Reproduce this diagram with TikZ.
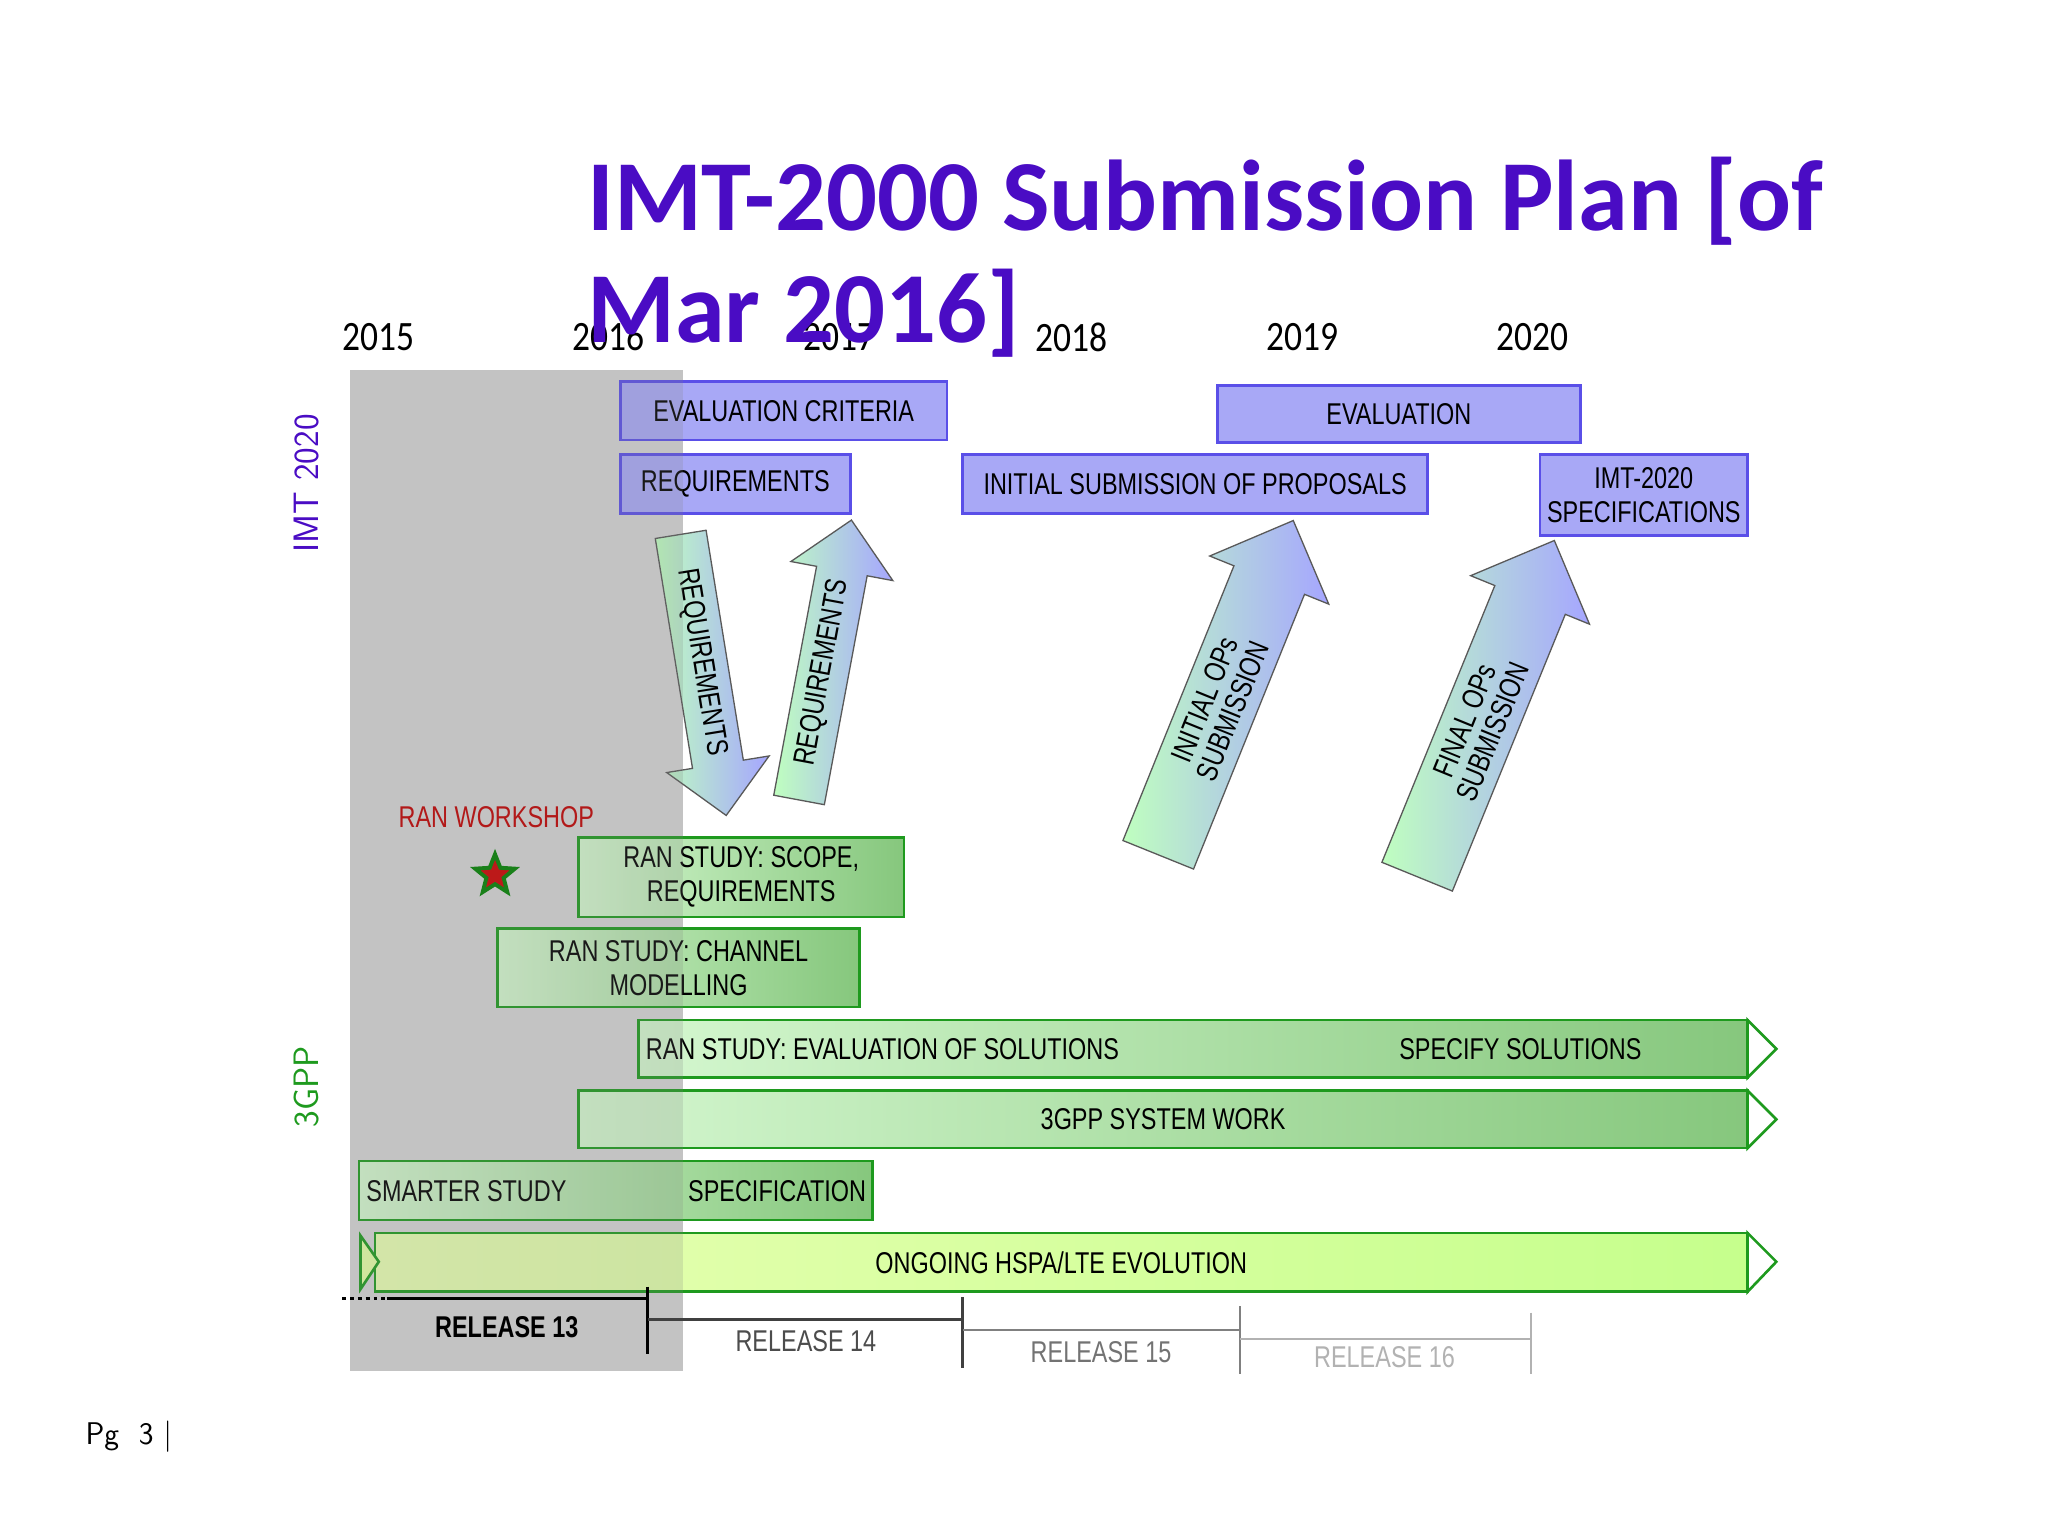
\documentclass[tikz,border=0pt]{standalone}
\usepackage{fontspec}
\setmainfont{Liberation Sans}
\newfontfamily\nar[FakeStretch=0.78]{Liberation Sans}
\newfontfamily\calfont{Carlito}
\newfontfamily\calnar[FakeStretch=0.85]{Carlito}
\usetikzlibrary{shapes.arrows,shapes.geometric}
\definecolor{ttl}{HTML}{4A0CC4}
\definecolor{pfill}{HTML}{A8A8F6}
\definecolor{pline}{HTML}{5A4FE8}
\definecolor{gline}{HTML}{1E9A1E}
\definecolor{gl}{HTML}{D4F7CF}
\definecolor{gd}{HTML}{86C77D}
\tikzset{
 pbox/.style={draw=pline,line width=2pt,fill=pfill,font=\nar\fontsize{23}{26}\selectfont,inner sep=0pt,align=center},
 gbox/.style={draw=gline,line width=2pt,left color=gl,right color=gd,font=\nar\fontsize{23}{26}\selectfont,inner sep=0pt,align=center},
 bigarr/.style={single arrow,draw=gray!70!black,line width=1pt,left color=green!25!white,right color=blue!35!white,font=\nar\fontsize{23}{23}\selectfont,align=center,inner sep=9pt,single arrow head extend=20pt,single arrow head indent=0pt},
 yr/.style={font=\calnar\fontsize{32}{32}\selectfont},
 tip/.style={draw=gline,line width=2pt,fill=white},
 rel/.style={font=\nar\fontsize{23}{23}\selectfont}
}
\begin{document}
\begin{tikzpicture}[x=1pt,y=-1pt]
\useasboundingbox[fill=white] (0,0) rectangle (1568,1176);
\fill[black!17] (268,283) rectangle (523,1050);
% years
\foreach \x/\t in {290/2015,466/2016,643/2017,820/2018,997/2019,1173/2020}
 \node[yr] (y\t) at (\x,258) {\t};
\node[font=\sffamily\fontsize{27}{27}\selectfont,text=ttl,rotate=90] (limt) at (235,370) {IMT 2020};
\node[font=\sffamily\fontsize{27}{27}\selectfont,text=gline,rotate=90] (lgpp) at (235,832) {3GPP};
% purple boxes
\node[pbox,minimum width=250,minimum height=45] (ec) at (600,314.5) {EVALUATION CRITERIA};
\node[pbox,minimum width=278,minimum height=44] (ev) at (1071,317) {EVALUATION};
\node[pbox,minimum width=176,minimum height=45] (rq) at (563,370.5) {REQUIREMENTS};
\node[pbox,minimum width=356,minimum height=45] (is) at (915,370.5) {INITIAL SUBMISSION OF PROPOSALS};
\node[pbox,minimum width=159,minimum height=62] (sp) at (1258.5,379) {IMT-2020\\SPECIFICATIONS};
% big arrows
\node[bigarr,minimum height=218,rotate=-80.8] (a1) at (537,507) {REQUIREMENTS};
\node[bigarr,minimum height=218,rotate=79.4] (a2) at (630,515) {REQUIREMENTS};
\node[bigarr,minimum height=276,rotate=68] (a3) at (933,540) {INITIAL OPs\\SUBMISSION};
\node[bigarr,minimum height=278,rotate=67.8] (a4) at (1132,556) {FINAL OPs\\SUBMISSION};
% workshop
\node[font=\nar\fontsize{23}{23}\selectfont,text=red!75!black] (rw) at (380,626) {RAN WORKSHOP};
\node[star,star points=5,star point ratio=2.3,fill=red!80!black,draw=green!50!black,line width=3pt,minimum size=32,inner sep=0pt] (st) at (379,670) {};
% green boxes
\node[gbox,minimum width=249,minimum height=61] (g1) at (567.5,671.5) {RAN STUDY: SCOPE,\\REQUIREMENTS};
\node[gbox,minimum width=277,minimum height=60] (g2) at (519.5,741) {RAN STUDY: CHANNEL\\MODELLING};
\node[gbox,minimum width=849,minimum height=44] (g3) at (913.5,803) {};
\node[font=\nar\fontsize{23}{23}\selectfont,anchor=west] (g3a) at (491,803) {RAN STUDY: EVALUATION OF SOLUTIONS};
\node[font=\nar\fontsize{23}{23}\selectfont] (g3b) at (1164,803) {SPECIFY SOLUTIONS};
\draw[tip] (1338,781) -- (1360,803) -- (1338,825) -- cycle;
\node[gbox,minimum width=895,minimum height=44] (g4) at (890.5,857) {3GPP SYSTEM WORK};
\draw[tip] (1338,835) -- (1360,857) -- (1338,879) -- cycle;
\node[gbox,minimum width=393,minimum height=45] (g5) at (471.5,911.5) {};
\node[font=\nar\fontsize{23}{23}\selectfont,anchor=west] (g5a) at (277,912) {SMARTER STUDY};
\node[font=\nar\fontsize{23}{23}\selectfont] (g5b) at (595,912) {SPECIFICATION};
\node[draw=gline,line width=2pt,left color=green!30!yellow!30,right color=green!50!yellow!45,minimum width=1051,minimum height=45,inner sep=0pt,font=\nar\fontsize{23}{23}\selectfont] (g6) at (812.5,966.5) {ONGOING HSPA/LTE EVOLUTION};
\draw[tip,fill=green!30!yellow!35] (276,946) -- (290,966) -- (276,987) -- cycle;
\draw[tip] (1338,944) -- (1360,966) -- (1338,989) -- cycle;
% gray overlay
\fill[gray,fill opacity=0.2] (268,283) rectangle (523,1050);
% releases
\coordinate (r0) at (262,994); \coordinate (r0b) at (296,994);
\coordinate (r1) at (496,994);
\draw[dashed,line width=2pt] (r0) -- (r0b);
\draw[line width=2.5pt] (r0b) -- (r1);
\draw[line width=2.5pt] (496,985) -- (496,1037);
\node[rel,font=\nar\bfseries\fontsize{23}{23}\selectfont] (t13) at (388,1016) {RELEASE 13};
\draw[line width=2pt,black!75] (496,1010) -- (737,1010);
\draw[line width=2pt,black!75] (737,993) -- (737,1047);
\node[rel,text=black!70] (t14) at (617,1027) {RELEASE 14};
\draw[line width=1.5pt,black!50] (737,1018) -- (949,1018);
\draw[line width=1.5pt,black!50] (949,1000) -- (949,1052);
\node[rel,text=black!55] (t15) at (843,1035) {RELEASE 15};
\draw[line width=1.2pt,black!30] (949,1025) -- (1172,1025);
\draw[line width=1.2pt,black!30] (1172,1005) -- (1172,1052);
\node[rel,text=black!30] (t16) at (1060,1039) {RELEASE 16};
% title
\node[anchor=west,font=\calfont\bfseries\fontsize{77}{86}\selectfont,text=ttl,align=left] (title) at (446,197) {IMT-2000 Submission Plan [of\\Mar 2016]};
\node[anchor=west,font=\sffamily\fontsize{24}{24}\selectfont] (pg) at (62,1100) {Pg\ \ 3 |};
\end{tikzpicture}
\end{document}
